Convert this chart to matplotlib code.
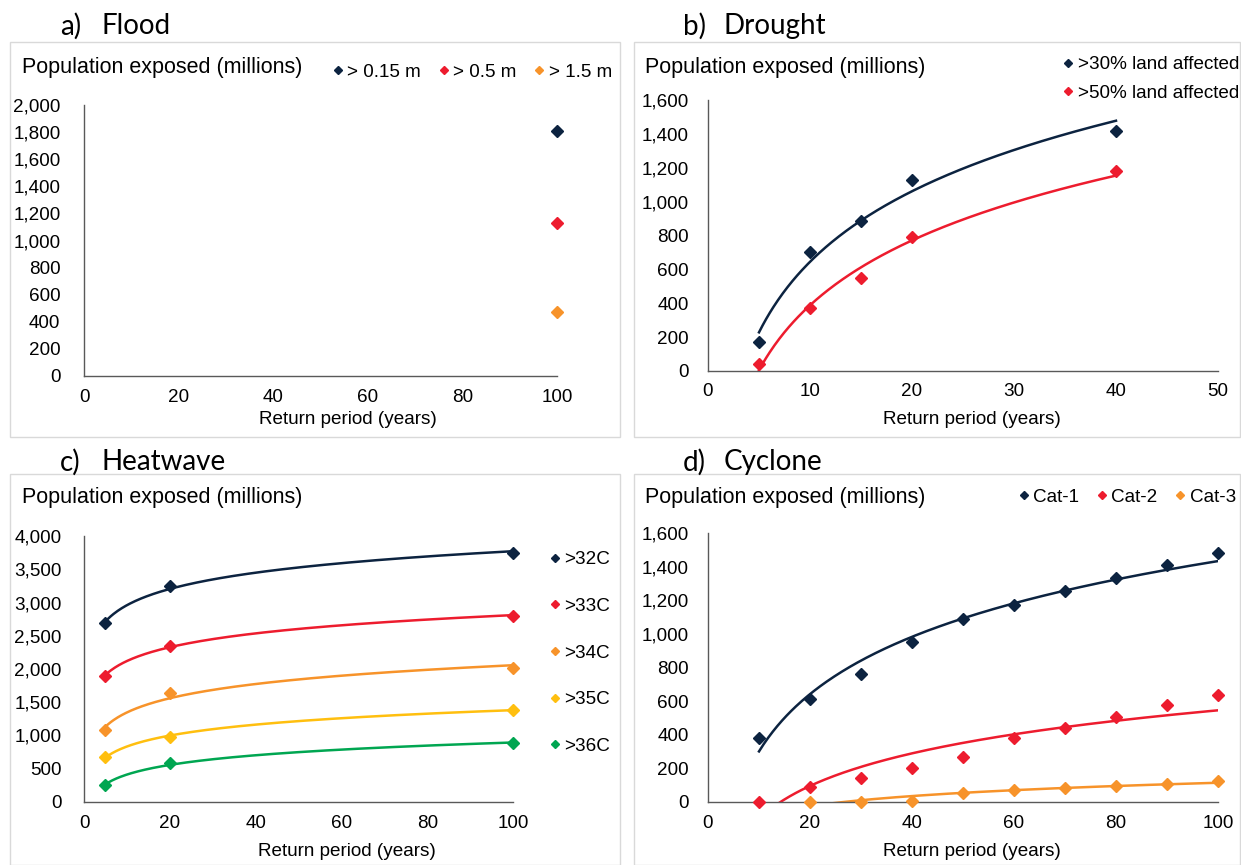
import numpy as np
import matplotlib
matplotlib.use("Agg")
import matplotlib.pyplot as plt
import matplotlib.ticker as ticker
from matplotlib.patches import Rectangle

plt.rcParams['font.family'] = ['Liberation Sans', 'DejaVu Sans']

NAVY = "#0c2340"
RED = "#ed1c2e"
ORANGE = "#f7932a"
GOLD = "#ffbf0f"
GREEN = "#00a651"

# a) Flood
flood_x = [100]
flood_015 = [1810]
flood_05 = [1130]
flood_15 = [470]

# b) Drought
drought_x = [5, 10, 15, 20, 40]
drought_30 = [170, 700, 885, 1130, 1415]
drought_50 = [40, 370, 550, 790, 1180]

# c) Heatwave
heat_x = [5, 20, 100]
heat_32 = [2690, 3250, 3750]
heat_33 = [1900, 2350, 2800]
heat_34 = [1090, 1640, 2020]
heat_35 = [680, 980, 1390]
heat_36 = [250, 590, 880]

# d) Cyclone
cyc_x = [10, 20, 30, 40, 50, 60, 70, 80, 90, 100]
cyc_1 = [380, 610, 760, 950, 1090, 1170, 1255, 1330, 1410, 1480]
cyc_2 = [0, 90, 145, 205, 265, 380, 440, 505, 575, 635]
cyc3_x = [20, 30, 40, 50, 60, 70, 80, 90, 100]
cyc_3 = [0, 0, 5, 55, 70, 85, 95, 110, 125]

W, H = 1241, 865
FS = 13.6  # tick / legend / axis label size


def fx(px):
    return px / W


def fy(py):
    return 1 - py / H


def log_trend(x, y):
    """Excel style logarithmic trendline over the data range."""
    a, b = np.polyfit(np.log(x), y, 1)
    xs = np.linspace(min(x), max(x), 300)
    return xs, a * np.log(xs) + b


def style_axes(ax, xmax, xstep, ymax, ystep, ypad, xlab_pos):
    ax.set_xlim(0, xmax)
    ax.set_ylim(0, ymax)
    ax.xaxis.set_major_locator(ticker.MultipleLocator(xstep))
    ax.yaxis.set_major_locator(ticker.MultipleLocator(ystep))
    ax.yaxis.set_major_formatter(ticker.FuncFormatter(lambda v, _: f'{int(v):,}'))
    for s in ['top', 'right']:
        ax.spines[s].set_visible(False)
    for s in ['left', 'bottom']:
        ax.spines[s].set_color("#595959")
        ax.spines[s].set_linewidth(1.0)
    ax.tick_params(axis='both', length=0, labelsize=FS, colors="black")
    ax.tick_params(axis='y', pad=ypad)
    ax.tick_params(axis='x', pad=9)
    ax.set_xlabel("Return period (years)", fontsize=FS, va='center')
    # Excel centres the axis title on the whole plot area, not the axis
    ax.xaxis.set_label_coords(fx(xlab_pos[0]), fy(xlab_pos[1]), transform=ax.figure.transFigure)
    ax.set_facecolor("none")


fig = plt.figure(figsize=(W / 100, H / 100), dpi=100)

# panel boxes
box_kw = dict(transform=fig.transFigure, fill=False, edgecolor="#d9d9d9", linewidth=1.0)
fig.add_artist(Rectangle((fx(10), fy(437)), 610 / W, 395 / H, **box_kw))
fig.add_artist(Rectangle((fx(634), fy(437)), 606 / W, 395 / H, **box_kw))
fig.add_artist(Rectangle((fx(10), 0.0), 610 / W, fy(474), **box_kw))
fig.add_artist(Rectangle((fx(634), 0.0), 606 / W, fy(474), **box_kw))

title_kw = dict(fontsize=20, family=['Lato', 'DejaVu Sans'], va='center')
for x0, y0, letter, name in [(60, 26, "a)", "Flood"), (683, 26, "b)", "Drought"),
                             (60, 462, "c)", "Heatwave"), (683, 462, "d)", "Cyclone")]:
    fig.text(fx(x0), fy(y0), letter, **title_kw)
    fig.text(fx(x0 + 41), fy(y0), name, **title_kw)

ylab_kw = dict(fontsize=15.5, va='center')
for x0, y0 in [(22, 68), (645, 68), (22, 497), (645, 497)]:
    fig.text(fx(x0), fy(y0), "Population exposed (millions)", **ylab_kw)

mk = dict(marker='D', markersize=6.5, linestyle='none', clip_on=False, zorder=3)
leg_kw = dict(frameon=False, fontsize=FS, handletextpad=0.05, markerscale=0.65,
              handlelength=0.9, borderpad=0, borderaxespad=0)

# a) Flood
ax = fig.add_axes([fx(84), fy(376), 473 / W, 271 / H])
ax.plot(flood_x, flood_015, color=NAVY, label="> 0.15 m", **mk)
ax.plot(flood_x, flood_05, color=RED, label="> 0.5 m", **mk)
ax.plot(flood_x, flood_15, color=ORANGE, label="> 1.5 m", **mk)
style_axes(ax, 100, 20, 2000, 200, 17, (348, 420))
ax.legend(loc='center right', bbox_to_anchor=(fx(612), fy(72)), bbox_transform=fig.transFigure,
          ncol=3, columnspacing=0.75, **leg_kw)

# b) Drought
ax = fig.add_axes([fx(708), fy(371), 510 / W, 271 / H])
for y, c, lab in [(drought_30, NAVY, ">30% land affected"), (drought_50, RED, ">50% land affected")]:
    xs, ys = log_trend(drought_x, y)
    ax.plot(xs, ys, color=c, linewidth=1.8)
    ax.plot(drought_x, y, color=c, label=lab, **mk)
style_axes(ax, 50, 10, 1600, 200, 14, (972, 420))
ax.legend(loc='upper right', bbox_to_anchor=(fx(1239), fy(56)), bbox_transform=fig.transFigure,
          labelspacing=0.6, **leg_kw)

# c) Heatwave
ax = fig.add_axes([fx(84), fy(802), 429 / W, 266 / H])
for y, c, lab in [(heat_32, NAVY, ">32C"), (heat_33, RED, ">33C"), (heat_34, ORANGE, ">34C"),
                  (heat_35, GOLD, ">35C"), (heat_36, GREEN, ">36C")]:
    xs, ys = log_trend(heat_x, y)
    ax.plot(xs, ys, color=c, linewidth=1.8)
    ax.plot(heat_x, y, color=c, label=lab, **mk)
style_axes(ax, 100, 20, 4000, 500, 16, (347, 852))
ax.legend(loc='upper left', bbox_to_anchor=(fx(546), fy(551)), bbox_transform=fig.transFigure,
          labelspacing=1.56, **leg_kw)

# d) Cyclone
ax = fig.add_axes([fx(708), fy(802), 510 / W, 269 / H])
for x, y, c, lab in [(cyc_x, cyc_1, NAVY, "Cat-1"), (cyc_x, cyc_2, RED, "Cat-2"), (cyc3_x, cyc_3, ORANGE, "Cat-3")]:
    xs, ys = log_trend(x, y)
    ax.plot(xs, ys, color=c, linewidth=1.8)
    ax.plot(x, y, color=c, label=lab, **mk)
style_axes(ax, 100, 20, 1600, 200, 14, (972, 852))
ax.legend(loc='center right', bbox_to_anchor=(fx(1236), fy(497)), bbox_transform=fig.transFigure,
          ncol=3, columnspacing=0.75, **leg_kw)

fig.savefig("out.png", dpi=100, facecolor="white")
